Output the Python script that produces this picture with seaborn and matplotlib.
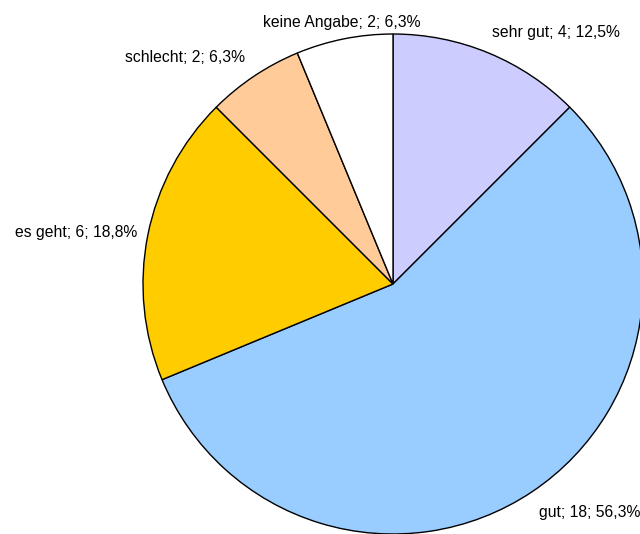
import seaborn as sns
import matplotlib.pyplot as plt

categories = ["sehr gut", "gut", "es geht", "schlecht", "keine Angabe"]
counts = [4, 18, 6, 2, 2]
percent_labels = ["12,5%", "56,3%", "18,8%", "6,3%", "6,3%"]
colors = ["#CCCCFF", "#99CCFF", "#FFCC00", "#FFCC99", "#FFFFFF"]

sns.set_theme(style="white")
plt.rcParams['font.family'] = ['Liberation Sans', 'DejaVu Sans']

labels = ["%s; %d; %s" % (c, n, p) for c, n, p in zip(categories, counts, percent_labels)]

fig = plt.figure(figsize=(6.4, 5.34), dpi=100)
ax = fig.add_axes([0, 0, 1, 1])
wedges, texts = ax.pie(counts, labels=labels, colors=colors, startangle=90,
                       counterclock=False, center=(393, 250), radius=250,
                       labeldistance=1.1, frame=True,
                       wedgeprops=dict(edgecolor="black", linewidth=1.0),
                       textprops=dict(fontsize=11.3, color="black"))
# label placement like the spreadsheet export
label_pos = [(492, 502, "left"), (539, 21, "left"), (137, 301, "right"),
             (245, 477, "right"), (342, 512, "center")]
for t, (x, y, ha) in zip(texts, label_pos):
    t.set_position((x, y))
    t.set_horizontalalignment(ha)
    t.set_verticalalignment("center")
ax.set_xlim(0, 640)
ax.set_ylim(0, 534)
ax.set_aspect("equal")
ax.axis("off")
fig.savefig("out.png", dpi=100)
